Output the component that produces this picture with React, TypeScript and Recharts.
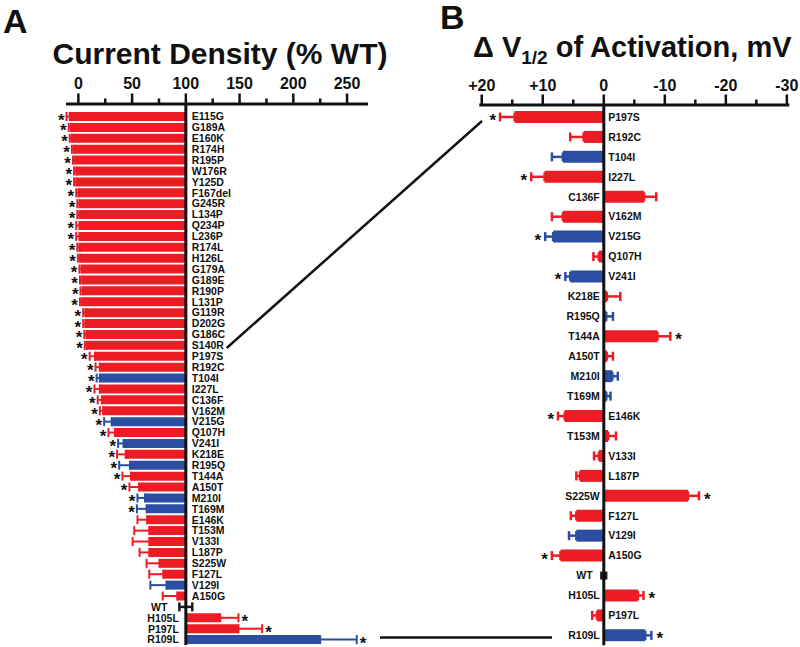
import React from "react";
import {
  BarChart,
  Bar,
  XAxis,
  YAxis,
  Cell,
  ErrorBar,
  LabelList,
  ReferenceLine,
} from "recharts";

const FONT = "'Liberation Sans', Arial, Helvetica, sans-serif";
const INK = "#111111";
const PALETTE: Record<string, string> = { r: "#ED1C24", b: "#2B4EA2", k: "#1a1a1a" };

// Panel A: current density, % of WT (top to bottom)
const mutantsA = [
  "E115G", "G189A", "E160K", "R174H", "R195P", "W176R", "Y125D", "F167del",
  "G245R", "L134P", "Q234P", "L236P", "R174L", "H126L", "G179A", "G189E",
  "R190P", "L131P", "G119R", "D202G", "G186C", "S140R", "P197S", "R192C",
  "T104I", "I227L", "C136F", "V162M", "V215G", "Q107H", "V241I", "K218E",
  "R195Q", "T144A", "A150T", "M210I", "T169M", "E146K", "T153M", "V133I",
  "L187P", "S225W", "F127L", "V129I", "A150G", "WT", "H105L", "P197L", "R109L",
];
const densityA = [
  -8, -7, -6, -4, -3, -2, -2, 0, 1, 1, 1, 1, 1, 1.5, 3, 3.5, 4, 3.5, 6.5, 6.5, 7.5, 8,
  15.5, 20, 20, 20, 22, 23, 31, 34, 42, 44, 48, 49, 56.5, 62, 63.5, 64, 66, 66, 66,
  75.5, 79, 82, 92, 100, 132, 149, 225,
];
const densityErrA = [
  3, 2, 2, 2, 2, 2, 2, 2, 2, 2, 3, 3, 2, 2, 2, 2, 2, 2, 2, 2, 2, 2,
  5, 4, 3, 5, 4, 3, 7, 6, 5, 8, 10, 8, 9, 7, 9, 9, 14, 15.5, 9, 12, 13, 15, 13.5,
  6, 17, 22, 34,
];
const groupA = "rrrrrrrrrrrrrrrrrrrrrr" + "rrbrrrbrbrbrrbbrrrrrrbr" + "krrb";
const starA = [
  1, 1, 1, 1, 1, 1, 1, 1, 1, 1, 1, 1, 1, 1, 1, 1, 1, 1, 1, 1, 1, 1, 1, 1, 1, 1, 1, 1,
  1, 1, 1, 1, 1, 1, 1, 1, 1, 0, 0, 0, 0, 0, 0, 0, 0, 0, 1, 1, 1,
];
const ticksA = [0, 25, 50, 75, 100, 125, 150, 175, 200, 225, 250];

// Panel B: shift of activation V1/2, mV
const mutantsB = [
  "P197S", "R192C", "T104I", "I227L", "C136F", "V162M", "V215G", "Q107H", "V241I",
  "K218E", "R195Q", "T144A", "A150T", "M210I", "T169M", "E146K", "T153M", "V133I",
  "L187P", "S225W", "F127L", "V129I", "A150G", "WT", "H105L", "P197L", "R109L",
];
const shiftB = [
  14.6, 3.3, 6.7, 9.7, -6.6, 6.7, 8.3, 0.8, 5.5, -0.5, -0.4, -8.8, -0.5, -1.4, -0.4,
  6.4, -0.7, 0.8, 3.9, -13.8, 4.5, 4.5, 7.1, 0, -5.6, 1.1, -6.8,
];
const shiftErrB = [
  2.4, 2.2, 1.8, 2.2, 2.0, 1.8, 1.3, 0.9, 0.8, 2.2, 1.1, 2.1, 1.0, 0.9, 0.7, 1.1,
  1.3, 0.8, 0.6, 1.8, 0.9, 1.2, 1.4, 0.35, 0.9, 0.8, 1.0,
];
const groupB = "rrbrrrbrbrbrrbbrrrrrrbrkrrb";
const starB = [1, 0, 0, 1, 0, 0, 1, 0, 1, 0, 0, 1, 0, 0, 0, 1, 0, 0, 0, 1, 0, 0, 1, 0, 1, 0, 1];
const ticksB = [-30, -25, -20, -15, -10, -5, 0, 5, 10, 15, 20];

const W = 800;
const H = 647;

// layout of the two plot areas
const A_LEFT = 66, A_RIGHT = 368, A_AXIS = 104, A_BOTTOM = 645;
const A_DOMAIN: [number, number] = [-111.5, 169.5]; // plotted as value - 100
const A_PX = (A_RIGHT - A_LEFT) / (A_DOMAIN[1] - A_DOMAIN[0]);

const B_LEFT = 479.3, B_RIGHT = 789.3, B_AXIS = 105, B_BOTTOM = 645.3;
const B_DOMAIN: [number, number] = [-30.4, 20.4];
const B_PX = (B_RIGHT - B_LEFT) / (B_DOMAIN[1] - B_DOMAIN[0]);

interface Row {
  name: string;
  v: number;
  err: number;
  group: string;
  star: boolean;
  errR: number[] | null;
  errB: number[] | null;
  errK: number[] | null;
}

function buildRows(names: string[], values: number[], errs: number[], groups: string, stars: number[], offset: number): Row[] {
  return names.map((name, i) => {
    const v = values[i] - offset;
    const e = errs[i];
    const outward = v === 0 ? [e, e] : v < 0 ? [e, 0] : [0, e];
    const g = groups[i];
    return {
      name,
      v,
      err: e,
      group: g,
      star: stars[i] === 1,
      errR: g === "r" ? outward : null,
      errB: g === "b" ? outward : null,
      errK: g === "k" ? outward : null,
    };
  });
}

const rowsA = buildRows(mutantsA, densityA, densityErrA, groupA, starA, 100);
const rowsB = buildRows(mutantsB, shiftB, shiftErrB, groupB, starB, 0);

const textStyle = { fontFamily: FONT, fontWeight: "bold" as const, fill: INK };

// WT sits exactly on the reference line: keep a hairline so it is not dropped
const keepZero = (value: any) => (Number(value) === 0 ? 0.5 : 0);

// names beside the baseline and asterisks past the whiskers
function rowLabels(rows: Row[], px: number, dir: 1 | -1, gapIn: number, gapOut: number, starIn: number, starOut: number) {
  return (props: any) => {
    const row = rows.find((r) => r.name === props.value);
    const vb = props.viewBox || props;
    if (!row || !vb) return null;
    const x0 = Number(vb.x);
    const w = Number(vb.width) || 0;
    const cy = Number(vb.y) + (Number(vb.height) || 0) / 2;
    const lo = Math.min(x0, x0 + w);
    const hi = Math.max(x0, x0 + w);
    const side = row.v * dir;
    const errPx = row.err * px;
    let nameX: number;
    let anchor: "start" | "end";
    let starX = 0;
    let starAnchor: "start" | "end" = "start";
    if (side < 0) {
      nameX = hi + gapIn;
      anchor = "start";
      starX = lo - errPx - starIn;
      starAnchor = "end";
    } else if (side > 0) {
      nameX = lo - gapOut;
      anchor = "end";
      starX = hi + errPx + starOut;
      starAnchor = "start";
    } else {
      nameX = Math.min(lo, hi - 0.5) - errPx - gapOut - 5;
      anchor = "end";
    }
    return (
      <g>
        <text x={nameX} y={cy + 3.8} textAnchor={anchor} fontSize={10.5} {...textStyle}>
          {row.name}
        </text>
        {row.star && (
          <text x={starX} y={cy + 9} textAnchor={starAnchor} fontSize={17} {...textStyle}>
            *
          </text>
        )}
      </g>
    );
  };
}

const tickA = (props: any) => {
  const { x, y, payload } = props;
  const v = Math.round(payload.value + 100);
  const major = v % 50 === 0;
  return (
    <g>
      <line x1={x} x2={x} y1={y} y2={y - (major ? 10.5 : 5.5)} stroke={INK} strokeWidth={2.5} />
      {major && (
        <text x={x} y={y - 15} textAnchor="middle" fontSize={16} {...textStyle}>
          {v}
        </text>
      )}
    </g>
  );
};

const tickB = (props: any) => {
  const { x, y, payload } = props;
  const v = Math.round(payload.value);
  const major = v % 10 === 0;
  const label = v > 0 ? `+${v}` : v < 0 ? `-${Math.abs(v)}` : "0";
  return (
    <g>
      <line x1={x} x2={x} y1={y} y2={y - (major ? 10.5 : 5.5)} stroke={INK} strokeWidth={2.5} />
      {major && (
        <text x={x} y={y - 14.5} textAnchor="middle" fontSize={16} {...textStyle}>
          {label}
        </text>
      )}
    </g>
  );
};

export default function App() {
  return (
    <div style={{ position: "absolute", left: 0, top: 0, width: W, height: H, background: "#fff", overflow: "hidden" }}>
      <div style={{ position: "absolute", left: 0, top: 0 }}>
        <BarChart
          layout="vertical"
          width={W}
          height={H}
          data={rowsA}
          margin={{ top: A_AXIS - 30, left: A_LEFT, right: W - A_RIGHT, bottom: H - A_BOTTOM }}
        >
          <XAxis
            type="number"
            orientation="top"
            height={30}
            domain={A_DOMAIN}
            allowDataOverflow
            ticks={ticksA.map((t) => t - 100)}
            interval={0}
            tickSize={0}
            tickMargin={0}
            tickLine={false}
            axisLine={{ stroke: INK, strokeWidth: 3 }}
            tick={tickA}
          />
          <YAxis type="category" dataKey="name" hide padding={{ top: 7, bottom: 0 }} />
          <Bar dataKey="v" barSize={9} minPointSize={keepZero} isAnimationActive={false}>
            {rowsA.map((r, i) => (
              <Cell key={i} fill={PALETTE[r.group]} />
            ))}
            <ErrorBar dataKey="errR" direction="x" width={4.5} stroke={PALETTE.r} strokeWidth={2} isAnimationActive={false} />
            <ErrorBar dataKey="errB" direction="x" width={4.5} stroke={PALETTE.b} strokeWidth={2} isAnimationActive={false} />
            <ErrorBar dataKey="errK" direction="x" width={4.5} stroke={PALETTE.k} strokeWidth={2.5} isAnimationActive={false} />
            <LabelList dataKey="name" content={rowLabels(rowsA, A_PX, 1, 6, 7, 2, 3)} />
          </Bar>
          <ReferenceLine x={0} stroke={INK} strokeWidth={3} />
        </BarChart>
      </div>

      <div style={{ position: "absolute", left: 0, top: 0 }}>
        <BarChart
          layout="vertical"
          width={W}
          height={H}
          data={rowsB}
          margin={{ top: B_AXIS - 30, left: B_LEFT, right: W - B_RIGHT, bottom: H - B_BOTTOM }}
        >
          <XAxis
            type="number"
            orientation="top"
            reversed
            height={30}
            domain={B_DOMAIN}
            allowDataOverflow
            ticks={ticksB}
            interval={0}
            tickSize={0}
            tickMargin={0}
            tickLine={false}
            axisLine={{ stroke: INK, strokeWidth: 3 }}
            tick={tickB}
          />
          <YAxis type="category" dataKey="name" hide padding={{ top: 2, bottom: 0 }} />
          <Bar dataKey="v" barSize={12} minPointSize={keepZero} isAnimationActive={false}>
            {rowsB.map((r, i) => (
              <Cell key={i} fill={PALETTE[r.group]} />
            ))}
            <ErrorBar dataKey="errR" direction="x" width={4.5} stroke={PALETTE.r} strokeWidth={2.5} isAnimationActive={false} />
            <ErrorBar dataKey="errB" direction="x" width={4.5} stroke={PALETTE.b} strokeWidth={2.5} isAnimationActive={false} />
            <ErrorBar dataKey="errK" direction="x" width={4} stroke={PALETTE.k} strokeWidth={3} isAnimationActive={false} />
            <LabelList dataKey="name" content={rowLabels(rowsB, B_PX, -1, 4.5, 4, 4, 5)} />
          </Bar>
          <ReferenceLine x={0} stroke={INK} strokeWidth={3} />
        </BarChart>
      </div>

      <svg width={W} height={H} style={{ position: "absolute", left: 0, top: 0, pointerEvents: "none" }}>
        <text x={3} y={33} fontSize={34} {...textStyle}>A</text>
        <text x={220} y={64} textAnchor="middle" fontSize={30} {...textStyle}>
          Current Density (% WT)
        </text>
        <text x={440} y={29} fontSize={34} {...textStyle}>B</text>
        <text x={473} y={57} fontSize={29} {...textStyle}>
          Δ V
          <tspan fontSize={19} dy={6.5}>1/2</tspan>
          <tspan dy={-6.5}> of Activation, mV</tspan>
        </text>
        {/* connectors from panel A to the matching rows in B */}
        <line x1={226.7} y1={348} x2={482} y2={121} stroke={INK} strokeWidth={2.5} />
        <line x1={380} y1={637.5} x2={552} y2={637.5} stroke={INK} strokeWidth={2.5} />
      </svg>
    </div>
  );
}
